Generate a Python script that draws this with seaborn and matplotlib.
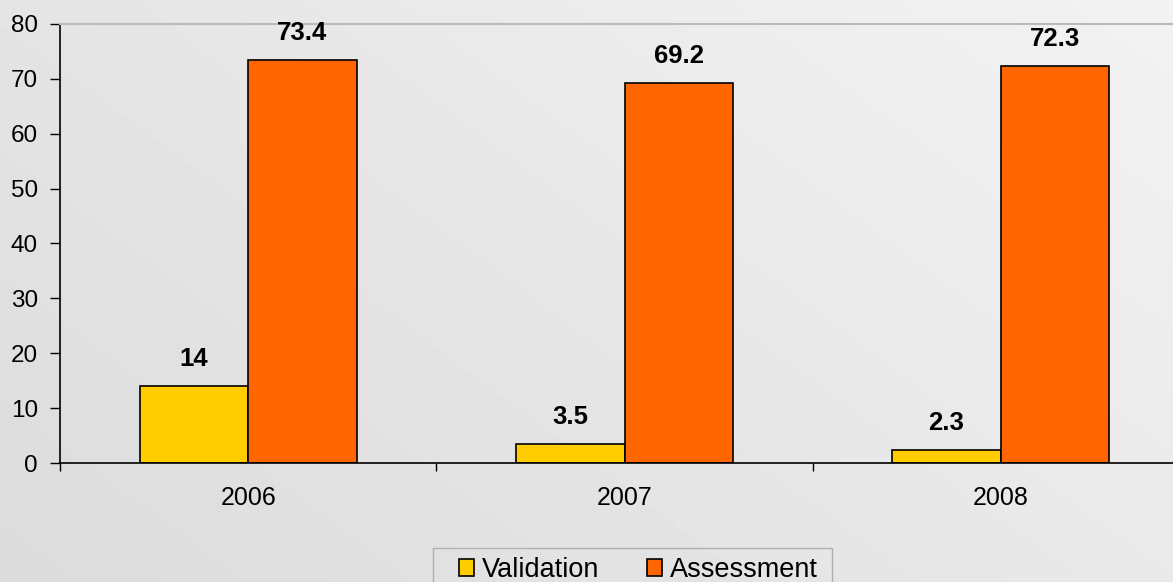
import numpy as np
import pandas as pd
import matplotlib
matplotlib.use("Agg")
import matplotlib.pyplot as plt
from matplotlib.patches import Rectangle
import seaborn as sns

years = ["2006", "2007", "2008"]
validation = [14, 3.5, 2.3]
assessment = [73.4, 69.2, 72.3]
series_names = ["Validation", "Assessment"]
colors = ["#ffcc00", "#ff6600"]

df = pd.DataFrame({
    "year": years * 2,
    "value": validation + assessment,
    "series": [series_names[0]] * 3 + [series_names[1]] * 3,
})

sns.set_style("white")
plt.rcParams["font.family"] = ["Liberation Sans", "DejaVu Sans"]
plt.rcParams["text.color"] = "black"
plt.rcParams["xtick.color"] = "black"
plt.rcParams["ytick.color"] = "black"

W, H = 1173, 582
fig = plt.figure(figsize=(W / 100, H / 100), dpi=100)

# grey gradient background, lighter towards top right
bg = fig.add_axes([0, 0, 1, 1], zorder=-10)
xx, yy = np.meshgrid(np.linspace(0, 1, 300), np.linspace(0, 1, 150))
grad = 0.86 + 0.09 * (0.6 * xx + 0.4 * (1 - yy))
bg.imshow(grad, cmap="gray", vmin=0, vmax=1, aspect="auto", extent=[0, 1, 0, 1])
bg.axis("off")

# plot area runs past the right edge of the picture, like the original
ax = fig.add_axes([60 / W, 1 - 463 / H, 1129 / W, 439 / H])
ax.patch.set_alpha(0)

sns.barplot(data=df, x="year", y="value", hue="series", palette=colors,
            saturation=1, width=0.577, edgecolor="black", linewidth=1.2, ax=ax, legend=True)

for cont in ax.containers:
    ax.bar_label(cont, labels=[f"{v:g}" for v in cont.datavalues],
                 padding=11, fontsize=18.5, fontweight="bold", color="black")

ax.set_ylim(0, 80)
ax.set_xlim(-0.5, 2.5)
ax.set_yticks(range(0, 81, 10))
ax.set_xlabel("")
ax.set_ylabel("")
ax.tick_params(axis="y", labelsize=17.5, length=7.5, width=1, pad=8.5, direction="out", left=True)
ax.tick_params(axis="x", which="major", labelsize=18, length=0, pad=16.5)
ax.set_xticks([-0.5, 0.5, 1.5, 2.5], minor=True)
ax.tick_params(axis="x", which="minor", length=6, width=1, direction="out", bottom=True)

for s in ["left", "bottom"]:
    ax.spines[s].set_color("black")
    ax.spines[s].set_linewidth(1.2)
ax.spines["right"].set_visible(False)
ax.spines["top"].set_color("#bbbbbb")
ax.spines["top"].set_linewidth(1.5)

# legend box, partly cut by the bottom edge
fig.patches.append(Rectangle((433 / W, -0.05), (832 - 433) / W, 0.05 + 1 - 548 / H,
                             transform=fig.transFigure, facecolor="none",
                             edgecolor="#b0b0b0", linewidth=1))

handles, labels = ax.get_legend_handles_labels()
ax.get_legend().remove()
leg = fig.legend(handles, labels, loc="upper left", bbox_to_anchor=(459 / W, 1 - 557 / H),
                 ncol=2, fontsize=19.5, frameon=False,
                 handlelength=0.55, handleheight=0.55, handletextpad=0.3, columnspacing=1.75,
                 borderpad=0, borderaxespad=0)

fig.savefig("out.png", dpi=100)
